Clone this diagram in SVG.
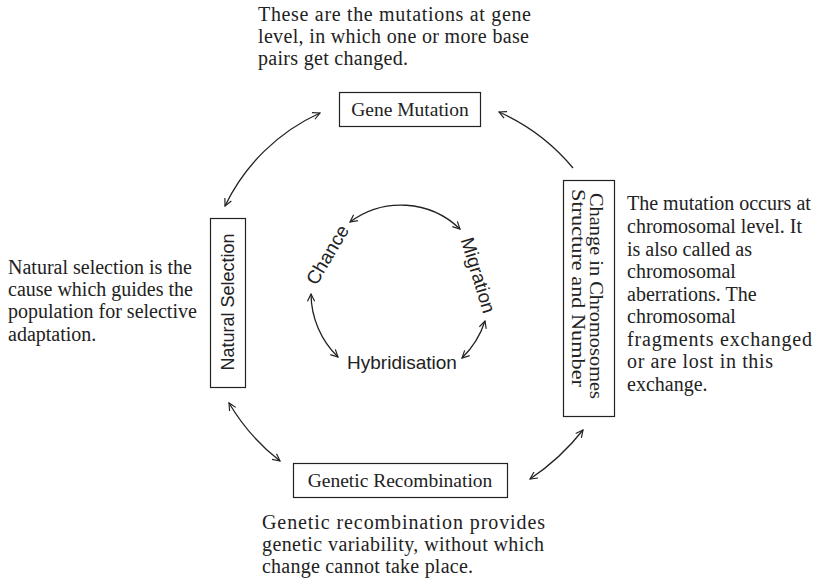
<svg xmlns="http://www.w3.org/2000/svg" width="816" height="581" viewBox="0 0 816 581">
  <defs>
    <marker id="arrow" viewBox="0 0 10 10" refX="9" refY="5" markerWidth="9" markerHeight="9" markerUnits="userSpaceOnUse" orient="auto-start-reverse">
      <path d="M1,1 L9,5 L1,9" fill="none" stroke="#222" stroke-width="1.3"/>
    </marker>
    <style>
      .box { fill: #fff; stroke: #222; stroke-width: 1.2; }
      .serif { font-family: "Liberation Serif", "Times New Roman", serif; fill: #222; }
      .sans { font-family: "Liberation Sans", Arial, sans-serif; fill: #222; }
      .note { font-size: 20px; }
      .label { font-size: 19.5px; }
      .link { fill: none; stroke: #222; stroke-width: 1.3; }
      .both { marker-start: url(#arrow); marker-end: url(#arrow); }
      .one { marker-end: url(#arrow); }
    </style>
  </defs>

  <rect width="816" height="581" fill="#fff"/>

  <!-- explanatory notes -->
  <g id="notes" class="serif note">
    <text x="258" y="21" textLength="273">These are the mutations at gene</text>
    <text x="258" y="43" textLength="271">level, in which one or more base</text>
    <text x="258" y="65" textLength="150">pairs get changed.</text>

    <text x="8" y="274">Natural selection is the</text>
    <text x="8" y="296">cause which guides the</text>
    <text x="8" y="318">population for selective</text>
    <text x="8" y="341">adaptation.</text>

    <text x="627" y="210">The mutation occurs at</text>
    <text x="627" y="233">chromosomal level. It</text>
    <text x="627" y="256">is also called as</text>
    <text x="627" y="278">chromosomal</text>
    <text x="627" y="301">aberrations. The</text>
    <text x="627" y="323">chromosomal</text>
    <text x="627" y="346" textLength="185">fragments exchanged</text>
    <text x="627" y="368" textLength="146">or are lost in this</text>
    <text x="627" y="391">exchange.</text>

    <text x="262" y="529" textLength="283">Genetic recombination provides</text>
    <text x="262" y="551" textLength="282">genetic variability, without which</text>
    <text x="262" y="573" textLength="211">change cannot take place.</text>
  </g>

  <!-- outer cycle nodes -->
  <g id="gene-mutation">
    <rect class="box" x="339.5" y="92.5" width="141" height="34"/>
    <text class="serif label" x="410" y="116" text-anchor="middle">Gene Mutation</text>
  </g>

  <g id="natural-selection">
    <rect class="box" x="210.5" y="218.5" width="35" height="169"/>
    <text class="sans" font-size="18" transform="translate(234,302) rotate(-90)" text-anchor="middle">Natural Selection</text>
  </g>

  <g id="chromosome-change">
    <rect class="box" x="563.5" y="180.5" width="51" height="236"/>
    <text class="serif" font-size="19.5" transform="translate(590,296) rotate(90)" text-anchor="middle" textLength="206" lengthAdjust="spacingAndGlyphs">Change in Chromosomes</text>
    <text class="serif" font-size="19.5" transform="translate(572,288) rotate(90)" text-anchor="middle" textLength="198" lengthAdjust="spacingAndGlyphs">Structure and Number</text>
  </g>

  <g id="genetic-recombination">
    <rect class="box" x="293.5" y="463.5" width="214" height="34"/>
    <text class="serif label" x="400" y="487" text-anchor="middle">Genetic Recombination</text>
  </g>

  <!-- inner cycle nodes -->
  <g id="chance">
    <text class="sans" font-size="19" transform="translate(333,258) rotate(-59.5)" text-anchor="middle">Chance</text>
  </g>
  <g id="migration">
    <text class="sans" font-size="19" transform="translate(472,277) rotate(73)" text-anchor="middle">Migration</text>
  </g>
  <g id="hybridisation">
    <text class="sans" font-size="19" x="402" y="369" text-anchor="middle">Hybridisation</text>
  </g>

  <!-- connectors -->
  <g id="connectors">
    <path class="link both" d="M225,206 A194,194 0 0 1 320,113"/>
    <path class="link one" d="M573,168 A205,205 0 0 0 499,112"/>
    <path class="link both" d="M229,403 A207,207 0 0 0 280,461"/>
    <path class="link both" d="M530,479 A230,230 0 0 0 583,430"/>

    <path class="link both" d="M350,222 A85,85 0 0 1 460,229"/>
    <path class="link both" d="M311,294 A89,89 0 0 0 338,357"/>
    <path class="link both" d="M462,358 A90,90 0 0 0 485,321"/>
  </g>
</svg>
